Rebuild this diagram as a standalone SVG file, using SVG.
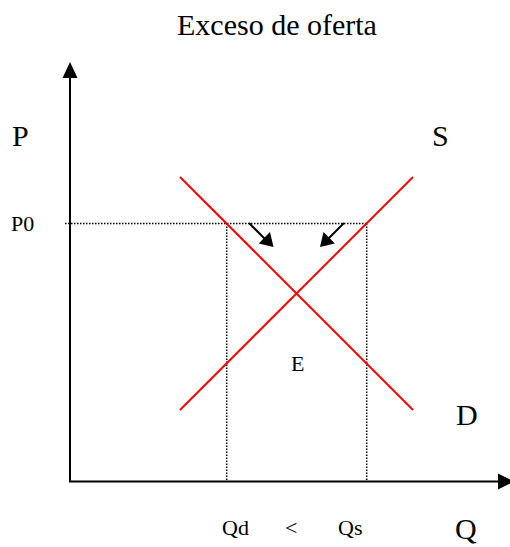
<svg xmlns="http://www.w3.org/2000/svg" width="510" height="547" viewBox="0 0 510 547">
  <style>
    .big { font-family: "Liberation Serif", "Times New Roman", serif; font-size: 30px; fill: #000; }
    .small { font-family: "Liberation Serif", "Times New Roman", serif; font-size: 22px; fill: #000; }
    .axis { stroke: #000; stroke-width: 2; fill: none; }
    .curve { stroke: #ff0000; stroke-width: 2; fill: none; }
    .dot { stroke: #000; stroke-width: 1.5; stroke-dasharray: 1.5 1.5; fill: none; }
    .arr { stroke: #000; stroke-width: 2; fill: none; }
    .head { fill: #000; stroke: none; }
  </style>
  <rect width="510" height="547" fill="#fff"/>
  <text id="title" class="big" x="177" y="35">Exceso de oferta</text>

  <g id="guides">
    <line class="dot" x1="65" y1="223.5" x2="367" y2="223.5"/>
    <line class="dot" x1="226.7" y1="223.5" x2="226.7" y2="480"/>
    <line class="dot" x1="366.7" y1="223.5" x2="366.7" y2="480"/>
  </g>

  <g id="axes">
    <line class="axis" x1="70" y1="482" x2="70" y2="76"/>
    <polygon class="head" points="70,62 62.5,78 77.5,78"/>
    <line class="axis" x1="69" y1="481.5" x2="499" y2="481.5"/>
    <polygon class="head" points="514,481.5 498,473.5 498,489.5"/>
  </g>

  <g id="demand">
    <line class="curve" x1="180" y1="177" x2="413" y2="410"/>
  </g>
  <g id="supply">
    <line class="curve" x1="180" y1="410" x2="413" y2="177"/>
  </g>

  <g id="connectors">
    <line class="arr" x1="249" y1="223" x2="265" y2="239"/>
    <polygon class="head" points="273.5,247 258.7,243.5 270,232.1"/>
    <line class="arr" x1="344" y1="223" x2="328.5" y2="238.5"/>
    <polygon class="head" points="320,247 334.9,243.5 323.5,232.1"/>
  </g>

  <g id="labels">
    <text class="big" x="12" y="146">P</text>
    <text class="big" x="432" y="146">S</text>
    <text class="big" x="456" y="425">D</text>
    <text class="big" x="455" y="539">Q</text>
    <text class="small" x="11" y="231">P0</text>
    <text class="small" x="291" y="371">E</text>
    <text class="small" x="222" y="535">Qd</text>
    <text class="small" x="285" y="535">&lt;</text>
    <text class="small" x="338" y="535">Qs</text>
  </g>
</svg>
